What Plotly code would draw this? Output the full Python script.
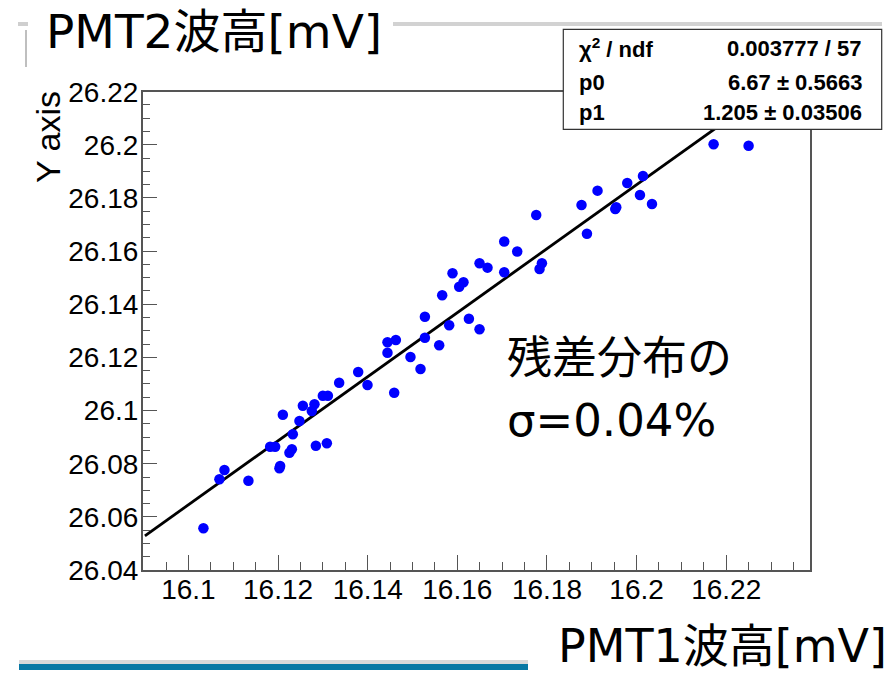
import plotly.graph_objects as go

# ---------------- data ----------------
pmt1_mV = [16.10335, 16.10692, 16.10804, 16.11339, 16.11824, 16.11935, 16.12047, 16.12031,
           16.12107, 16.12308, 16.12254, 16.12330, 16.12478, 16.12554, 16.12754, 16.12813,
           16.12844, 16.13000, 16.13112, 16.13089, 16.13364, 16.13788, 16.13996, 16.14442,
           16.14629, 16.14442, 16.14592, 16.14955, 16.15179, 16.15277, 16.15277, 16.15596,
           16.15663, 16.15819, 16.15893, 16.16042, 16.16138, 16.16259, 16.16496, 16.16496,
           16.16674, 16.17047, 16.17047, 16.17337, 16.17761, 16.17888, 16.17835, 16.18772,
           16.18893, 16.19129, 16.19547, 16.19525, 16.19792, 16.20076, 16.20143, 16.20344,
           16.21719, 16.22500]
pmt2_mV = [26.05569, 26.07414, 26.07764, 26.07361, 26.08641, 26.08641, 26.07914, 26.07828,
           26.09845, 26.08543, 26.08415, 26.09107, 26.09608, 26.10184, 26.09984, 26.10236,
           26.08678, 26.10560, 26.10560, 26.08769, 26.11049, 26.11452, 26.10963, 26.12570,
           26.12656, 26.12178, 26.10673, 26.12017, 26.11565, 26.13533, 26.12743, 26.12457,
           26.14339, 26.13210, 26.15167, 26.14662, 26.14828, 26.13458, 26.15543, 26.13059,
           26.15378, 26.15204, 26.16364, 26.15987, 26.17361, 26.15543, 26.15329, 26.17737,
           26.16657, 26.18276, 26.17651, 26.17587, 26.18565, 26.18114, 26.18829, 26.17775,
           26.20022, 26.19969]

fit_p0 = 6.670
fit_p1 = 1.20463
fit_range = [16.0903, 16.2290]

x_tickvals = [16.10, 16.12, 16.14, 16.16, 16.18, 16.20, 16.22]
x_ticktext = ["16.1", "16.12", "16.14", "16.16", "16.18", "16.2", "16.22"]
y_tickvals = [26.04, 26.06, 26.08, 26.10, 26.12, 26.14, 26.16, 26.18, 26.20, 26.22]
y_ticktext = ["26.04", "26.06", "26.08", "26.1", "26.12", "26.14", "26.16", "26.18", "26.2", "26.22"]

x_range = [16.0898, 16.2387]
y_range = [26.04, 26.22]

stats_labels = ["χ<sup>2</sup> / ndf", "p0", "p1"]
stats_values = ["0.003777 / 57", "6.67 ± 0.5663", "1.205 ± 0.03506"]

# ---------------- figure ----------------
W, H = 892, 675


def px(x):
    return x / W


def py(y):
    return 1 - y / H


fit_y = [fit_p0 + fit_p1 * x for x in fit_range]

fig = go.Figure()
fig.add_trace(go.Scatter(x=fit_range, y=fit_y, mode="lines",
                         line=dict(color="black", width=2.8), hoverinfo="skip",
                         showlegend=False))
fig.add_trace(go.Scatter(x=pmt1_mV, y=pmt2_mV, mode="markers",
                         marker=dict(color="#0000ff", size=10.5, line=dict(width=0)),
                         showlegend=False))

tick_font = dict(family="Liberation Sans, Arial, sans-serif", size=28, color="black")
axis_common = dict(showgrid=False, zeroline=False, showline=True, linecolor="#555555",
                   linewidth=1.5, mirror=True, ticks="inside", ticklen=15,
                   tickcolor="#555555", tickwidth=1.2, tickfont=tick_font,
                   automargin=False)

fig.update_xaxes(range=x_range, tickmode="array", tickvals=x_tickvals, ticktext=x_ticktext,
                 domain=[px(142.7), px(810)], ticklabelstandoff=-6,
                 minor=dict(dtick=0.005, tick0=16.1, ticks="inside", ticklen=8,
                            tickcolor="#555555", tickwidth=1.2),
                 **axis_common)
fig.update_yaxes(range=y_range, tickmode="array", tickvals=y_tickvals, ticktext=y_ticktext,
                 domain=[py(570), py(91.7)], ticklabelstandoff=-3,
                 minor=dict(dtick=0.005, tick0=26.04, ticks="inside", ticklen=8,
                            tickcolor="#555555", tickwidth=1.2),
                 **axis_common)

shapes = [
    # canvas top border pieces
    dict(type="line", xref="paper", yref="paper", x0=px(18), x1=px(28), y0=py(24), y1=py(24),
         line=dict(color="#cfcfcf", width=4)),
    dict(type="line", xref="paper", yref="paper", x0=px(393), x1=px(882), y0=py(24), y1=py(24),
         line=dict(color="#d2d2d2", width=4)),
    dict(type="line", xref="paper", yref="paper", x0=px(26), x1=px(26), y0=py(30), y1=py(67),
         line=dict(color="#aaaaaa", width=1.5)),
    # stats box
    dict(type="rect", xref="paper", yref="paper", x0=px(563.3), x1=px(881.7),
         y0=py(129.3), y1=py(29.3), fillcolor="white", line=dict(color="#333333", width=1.2),
         layer="above"),
    # bottom decoration bar
    dict(type="rect", xref="paper", yref="paper", x0=px(19), x1=px(528), y0=py(664),
         y1=py(660), fillcolor="#d8d8d8", line=dict(width=0)),
    dict(type="rect", xref="paper", yref="paper", x0=px(19), x1=px(528), y0=py(670),
         y1=py(664), fillcolor="#0878a4", line=dict(width=0)),
]

slide_font = dict(family="DejaVu Sans, Noto Sans CJK JP, sans-serif", color="black")
annotations = [
    dict(text="PMT2波高[mV]", x=px(44), y=py(31), xanchor="left", yanchor="middle",
         font=dict(size=47, **slide_font)),
    dict(text="PMT1波高[mV]", x=px(888), y=py(646), xanchor="right", yanchor="middle",
         borderpad=0, font=dict(size=46, **slide_font)),
    dict(text="残差分布の", x=px(505), y=py(358), xanchor="left", yanchor="middle",
         font=dict(size=45, **slide_font)),
    dict(text="σ=0.04%", x=px(505), y=py(420), xanchor="left", yanchor="middle",
         font=dict(size=45, **slide_font)),
    dict(text="Y axis", x=px(48), y=py(137), xanchor="center", yanchor="middle",
         textangle=-90, font=dict(family="Liberation Sans, Arial, sans-serif", size=34,
                                  color="black")),
]
row_y = [48, 82, 112]
stat_font = dict(family="Liberation Sans, Arial, sans-serif", size=22, color="black")
for lab, val, ry in zip(stats_labels, stats_values, row_y):
    annotations.append(dict(text="<b>" + lab + "</b>", x=px(577), y=py(ry), xanchor="left",
                            yanchor="middle", font=stat_font))
    annotations.append(dict(text="<b>" + val + "</b>", x=px(864), y=py(ry), xanchor="right",
                            yanchor="middle", font=stat_font))

for a in annotations:
    a.setdefault("xref", "paper")
    a.setdefault("yref", "paper")
    a.setdefault("showarrow", False)

fig.update_layout(width=W, height=H, autosize=False, margin=dict(l=0, r=0, t=0, b=0),
                  paper_bgcolor="white", plot_bgcolor="white", shapes=shapes,
                  annotations=annotations, showlegend=False)

fig.write_html("out.html")
